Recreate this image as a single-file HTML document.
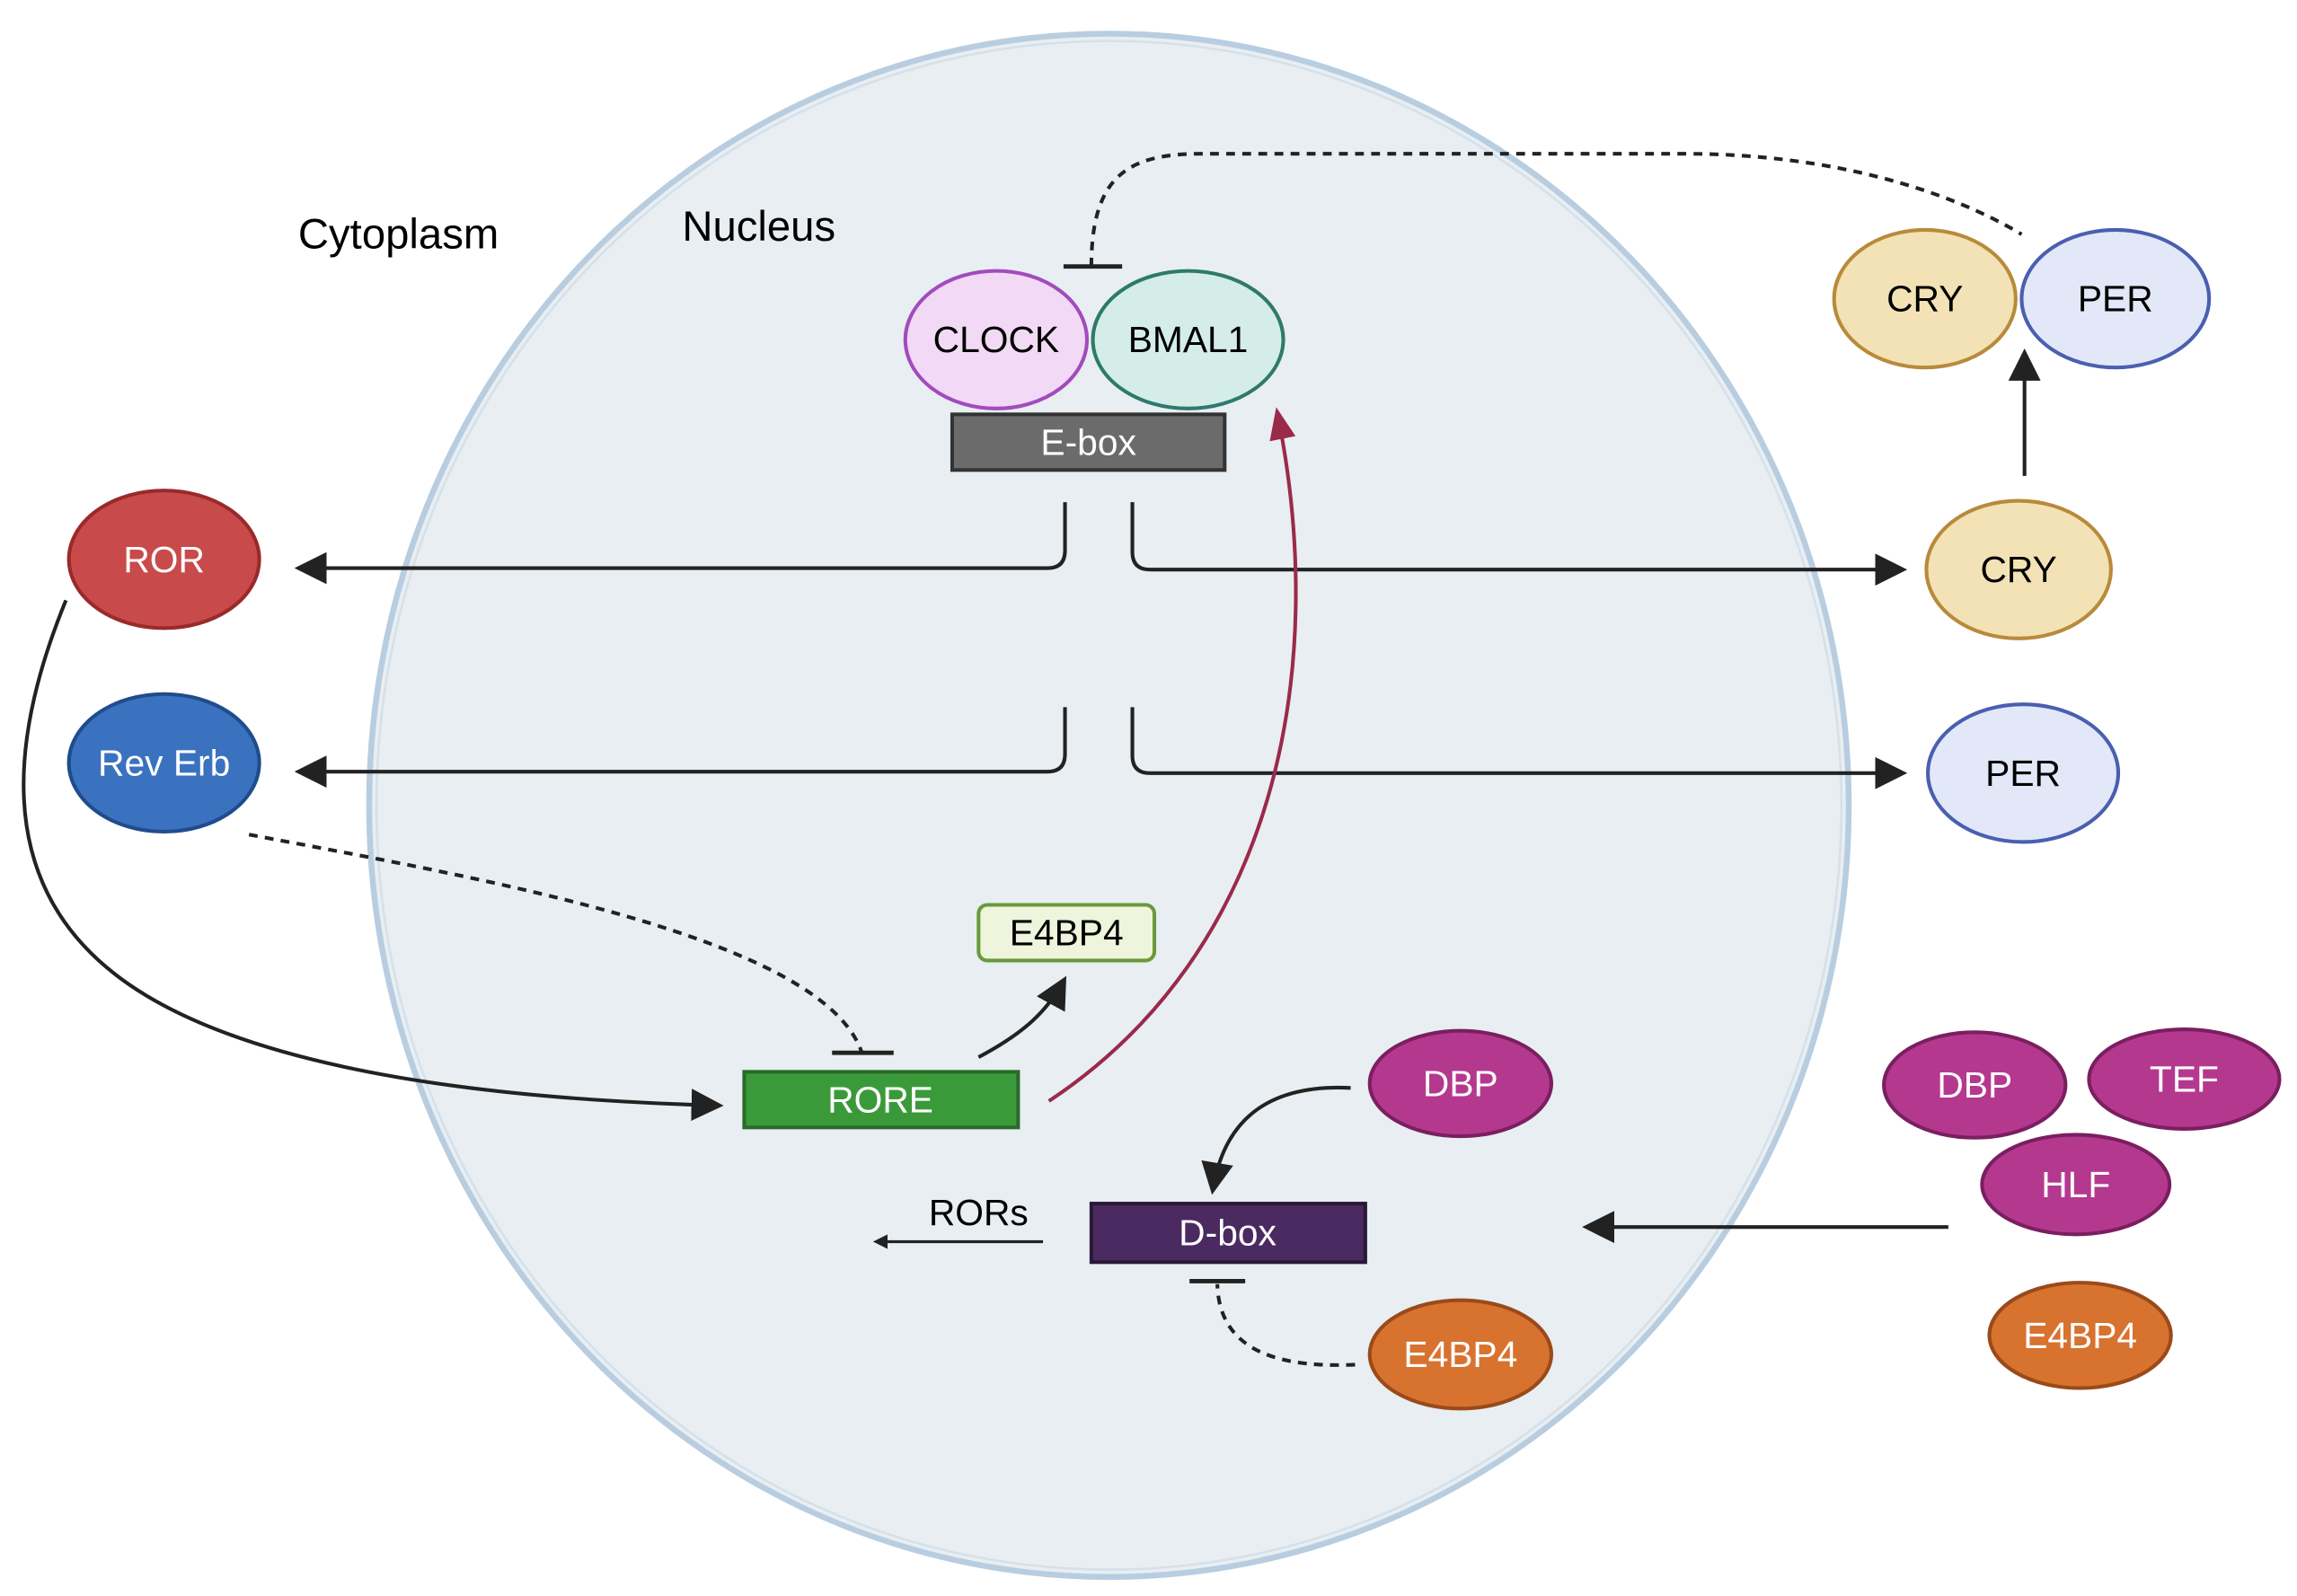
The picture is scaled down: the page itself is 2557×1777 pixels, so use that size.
<!DOCTYPE html>
<html><head><meta charset="utf-8"><style>
html,body{margin:0;padding:0;background:#fff}
svg{display:block}
text{font-family:"Liberation Sans",sans-serif;font-size:25px;text-anchor:middle;dominant-baseline:central}
</style></head><body>
<svg width="2557" height="1777" viewBox="0 0 1568 1090" preserveAspectRatio="none">
<defs>
<marker id="ah" markerWidth="10" markerHeight="10" refX="6" refY="5" orient="auto" markerUnits="userSpaceOnUse" viewBox="0 0 10 10"><path d="M0,0 L10,5 L0,10 z" fill="#222"/></marker>
<marker id="ab" markerWidth="22" markerHeight="22" refX="18" refY="11" orient="auto" markerUnits="userSpaceOnUse"><path d="M0,0 L22,11 L0,22 z" fill="#222"/></marker>
<marker id="ar" markerWidth="22" markerHeight="22" refX="18" refY="11" orient="auto" markerUnits="userSpaceOnUse"><path d="M0,2 L22,11 L0,20 z" fill="#9a2a4a"/></marker>
</defs>
<ellipse cx="757" cy="550" rx="505" ry="527" fill="#e8eef2" stroke="#b8cde0" stroke-width="4"/>
<ellipse cx="757" cy="550" rx="500" ry="522" fill="none" stroke="#d4e0ea" stroke-width="1.5"/>
<text x="272" y="160" style="font-size:29px">Cytoplasm</text>
<text x="518" y="155" style="font-size:29px">Nucleus</text>

<path d="M745,182 C745,120 770,105 820,105 L1150,105 C1250,105 1330,130 1380,160" fill="none" stroke="#222" stroke-width="2.5" stroke-dasharray="6,5"/>
<line x1="726" y1="182" x2="766" y2="182" stroke="#222" stroke-width="3"/>

<ellipse cx="680" cy="232" rx="62" ry="47" fill="#f2d9f5" stroke="#a24bbd" stroke-width="2.5"/>
<ellipse cx="811" cy="232" rx="65" ry="47" fill="#d4ede9" stroke="#2e7a6a" stroke-width="2.5"/>
<text x="680" y="232">CLOCK</text><text x="811" y="232">BMAL1</text>
<rect x="650" y="283" width="186" height="38" fill="#6b6b6b" stroke="#333" stroke-width="2.5"/>
<text x="743" y="302" fill="#fff">E-box</text>

<ellipse cx="1314" cy="204" rx="62" ry="47" fill="#f2e2b5" stroke="#b88a3a" stroke-width="2.5"/>
<ellipse cx="1444" cy="204" rx="64" ry="47" fill="#e3e8f8" stroke="#4a5fb0" stroke-width="2.5"/>
<text x="1314" y="204">CRY</text><text x="1444" y="204">PER</text>
<line x1="1382" y1="325" x2="1382" y2="242" stroke="#222" stroke-width="2.5" marker-end="url(#ab)"/>
<ellipse cx="1378" cy="389" rx="63" ry="47" fill="#f2e2b5" stroke="#b88a3a" stroke-width="2.5"/>
<text x="1378" y="389">CRY</text>
<ellipse cx="1381" cy="528" rx="65" ry="47" fill="#e3e8f8" stroke="#4a5fb0" stroke-width="2.5"/>
<text x="1381" y="528">PER</text>

<ellipse cx="112" cy="382" rx="65" ry="47" fill="#c94a4a" stroke="#9a2a2a" stroke-width="2.5"/>
<text x="112" y="382" fill="#fff">ROR</text>
<ellipse cx="112" cy="521" rx="65" ry="47" fill="#3a72c0" stroke="#1f4c8c" stroke-width="2.5"/>
<text x="112" y="521" fill="#fff">Rev Erb</text>

<g fill="none" stroke="#222" stroke-width="2.5">
<path d="M727,343 L727,376 Q727,388 715,388 L205,388" marker-end="url(#ab)"/>
<path d="M773,343 L773,377 Q773,389 785,389 L1298,389" marker-end="url(#ab)"/>
<path d="M727,483 L727,515 Q727,527 715,527 L205,527" marker-end="url(#ab)"/>
<path d="M773,483 L773,516 Q773,528 785,528 L1298,528" marker-end="url(#ab)"/>
<path d="M45,410 C0,520 0,620 100,680 C200,740 380,752 490,755" marker-end="url(#ab)"/>
<path d="M170,570 C330,600 560,640 588,718" stroke-dasharray="6,5"/>
<path d="M668,722 C700,705 715,690 726,670" marker-end="url(#ab)"/>
<path d="M922,743 C860,740 835,770 828,812" marker-end="url(#ab)"/>
<path d="M712,848 L600,848" stroke-width="2" marker-end="url(#ah)"/>
<path d="M925,932 C860,935 832,915 831,877" stroke-dasharray="6,5"/>
<path d="M1330,838 L1084,838" marker-end="url(#ab)"/>
</g>
<line x1="568" y1="719" x2="610" y2="719" stroke="#222" stroke-width="3"/>
<line x1="812" y1="875" x2="850" y2="875" stroke="#222" stroke-width="3"/>
<path d="M716,752 C870,650 908,460 872,282" fill="none" stroke="#9a2a4a" stroke-width="2.5" marker-end="url(#ar)"/>

<rect x="668" y="618" width="120" height="38" rx="6" fill="#eef5dc" stroke="#6a9a3a" stroke-width="2.5"/>
<text x="728" y="637">E4BP4</text>
<rect x="508" y="732" width="187" height="38" fill="#3a9a3a" stroke="#2a6a2a" stroke-width="2.5"/>
<text x="601" y="751" fill="#fff">RORE</text>

<ellipse cx="997" cy="740" rx="62" ry="36" fill="#b5388f" stroke="#7a1f60" stroke-width="2.5"/>
<text x="997" y="740" fill="#fff">DBP</text>
<rect x="745" y="822" width="187" height="40" fill="#4a2a60" stroke="#2a1838" stroke-width="2.5"/>
<text x="838" y="842" fill="#fff">D-box</text>
<text x="668" y="828">RORs</text>
<ellipse cx="997" cy="925" rx="62" ry="37" fill="#d8722f" stroke="#9a4a1a" stroke-width="2.5"/>
<text x="997" y="925" fill="#fff">E4BP4</text>

<ellipse cx="1348" cy="741" rx="62" ry="36" fill="#b5388f" stroke="#7a1f60" stroke-width="2.5"/>
<text x="1348" y="741" fill="#fff">DBP</text>
<ellipse cx="1491" cy="737" rx="65" ry="34" fill="#b5388f" stroke="#7a1f60" stroke-width="2.5"/>
<text x="1491" y="737" fill="#fff">TEF</text>
<ellipse cx="1417" cy="809" rx="64" ry="34" fill="#b5388f" stroke="#7a1f60" stroke-width="2.5"/>
<text x="1417" y="809" fill="#fff">HLF</text>
<ellipse cx="1420" cy="912" rx="62" ry="36" fill="#d8722f" stroke="#9a4a1a" stroke-width="2.5"/>
<text x="1420" y="912" fill="#fff">E4BP4</text>
</svg>
</body></html>
